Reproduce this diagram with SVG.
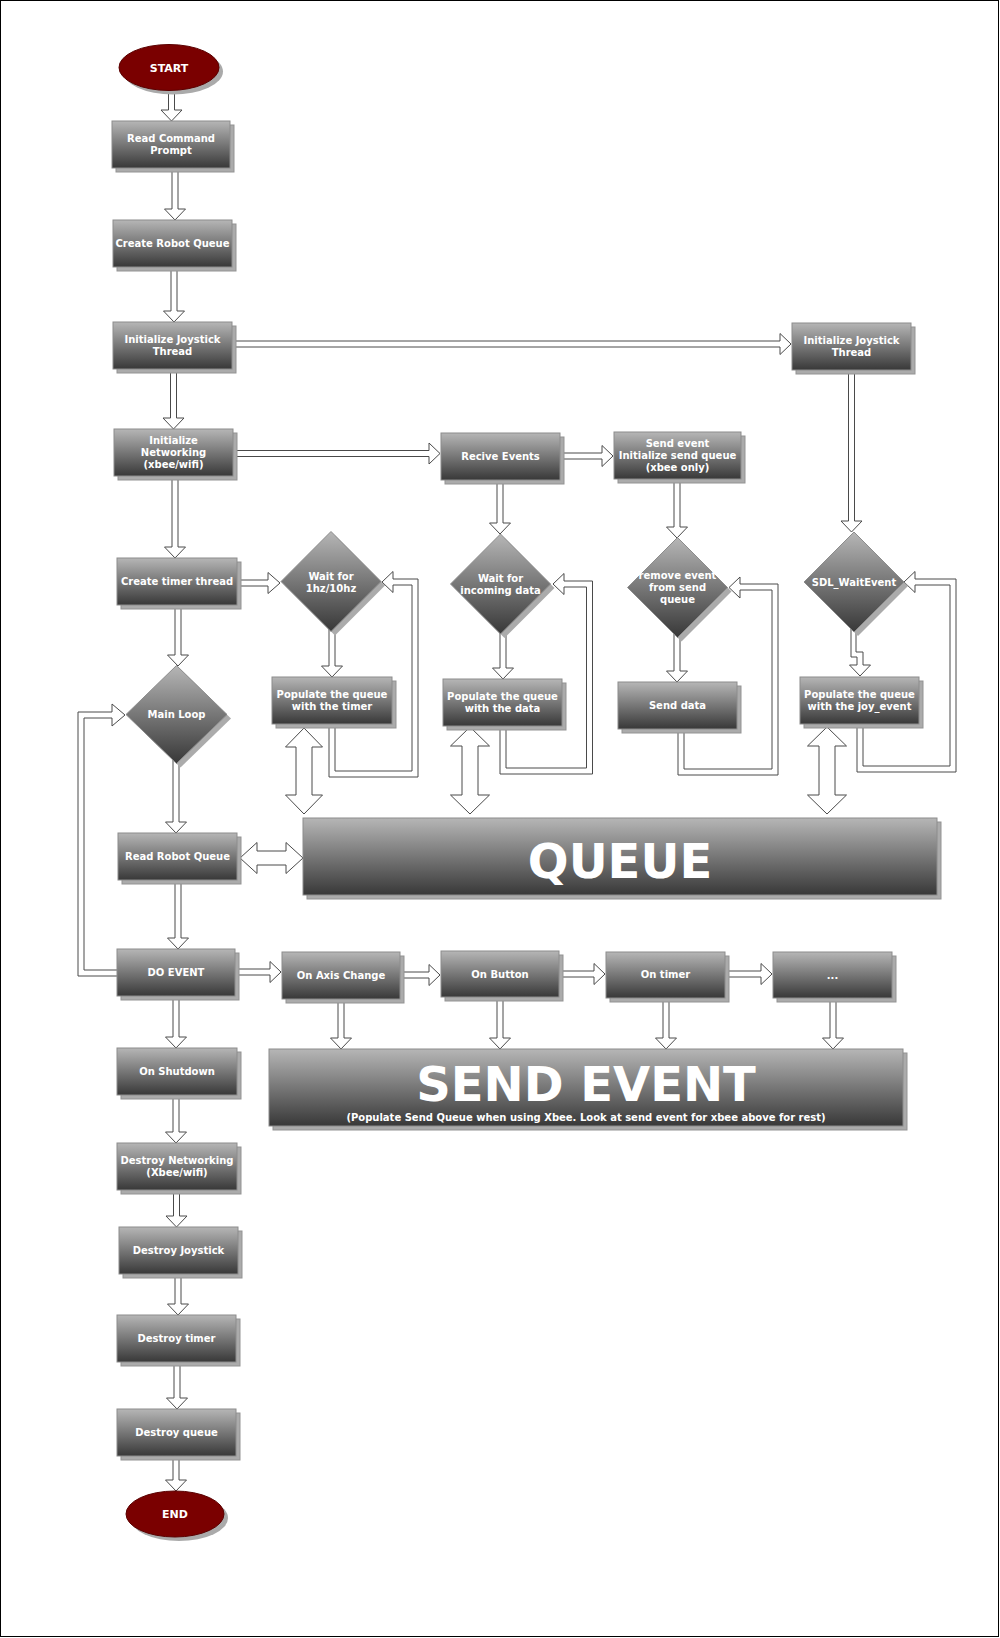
<svg xmlns="http://www.w3.org/2000/svg" width="1000" height="1638" viewBox="0 0 1000 1638">
<defs>
<linearGradient id="g" x1="0" y1="0" x2="0" y2="1">
<stop offset="0" stop-color="#b6b6b6"/>
<stop offset="1" stop-color="#383838"/>
</linearGradient>
<style>
.box{fill:url(#g);stroke:#8c8c8c;stroke-width:1}
.sh{fill:#ababab;stroke:#939393;stroke-width:1}
.t{font-family:"DejaVu Sans",Verdana,sans-serif;font-weight:bold;font-size:10px;fill:#ffffff;text-anchor:middle}
.big{font-size:48px}
.sub{font-size:10px}
.arr{fill:#ffffff;stroke:#4a4a4a;stroke-width:1}
.ell{fill:#7a0000;stroke:#5a0000;stroke-width:1}
</style>
</defs>
<rect x="0.5" y="0.5" width="998" height="1636" fill="#ffffff" stroke="#000000" stroke-width="1"/>

<g id="connectors">
<polygon class="arr" points="168.5,88 168.5,110 161,110 171.5,121 182,110 174.5,110 174.5,88"/>
<polygon class="arr" points="172,168 172,209 164.5,209 175,220 185.5,209 178,209 178,168"/>
<polygon class="arr" points="171,267 171,311 163.5,311 174,322 184.5,311 177,311 177,267"/>
<polygon class="arr" points="170.5,369 170.5,418 163,418 173.5,429 184,418 176.5,418 176.5,369"/>
<polygon class="arr" points="172,476 172,547 164.5,547 175,558 185.5,547 178,547 178,476"/>
<polygon class="arr" points="175,605 175,655 167.5,655 178,666 188.5,655 181,655 181,605"/>
<polygon class="arr" points="173,760 173,822 165.5,822 176,833 186.5,822 179,822 179,760"/>
<polygon class="arr" points="175,881 175,938 167.5,938 178,949 188.5,938 181,938 181,881"/>
<polygon class="arr" points="173,996 173,1037 165.5,1037 176,1048 186.5,1037 179,1037 179,996"/>
<polygon class="arr" points="173,1095 173,1132 165.5,1132 176,1143 186.5,1132 179,1132 179,1095"/>
<polygon class="arr" points="173.5,1190 173.5,1216 166,1216 176.5,1227 187,1216 179.5,1216 179.5,1190"/>
<polygon class="arr" points="175,1274 175,1304 167.5,1304 178,1315 188.5,1304 181,1304 181,1274"/>
<polygon class="arr" points="174,1362 174,1398 166.5,1398 177,1409 187.5,1398 180,1398 180,1362"/>
<polygon class="arr" points="173,1456 173,1480 165.5,1480 176,1491 186.5,1480 179,1480 179,1456"/>

<polygon class="arr" points="232,341 780,341 780,333.5 791,344 780,354.5 780,347 232,347"/>
<polygon class="arr" points="233,450.5 429,450.5 429,443 440,453.5 429,464 429,456.5 233,456.5"/>
<polygon class="arr" points="560,453 602,453 602,445.5 613,456 602,466.5 602,459 560,459"/>
<polygon class="arr" points="237,580 268,580 268,572.5 280,583 268,593.5 268,586 237,586"/>
<polygon class="arr" points="235,969 270,969 270,961.5 281,972 270,982.5 270,975 235,975"/>
<polygon class="arr" points="400,972 429,972 429,964.5 440,975 429,985.5 429,978 400,978"/>
<polygon class="arr" points="559,971 594,971 594,963.5 605,974 594,984.5 594,977 559,977"/>
<polygon class="arr" points="725,971 761,971 761,963.5 772,974 761,984.5 761,977 725,977"/>

<polygon class="arr" points="338,999 338,1038 330.5,1038 341,1049 351.5,1038 344,1038 344,999"/>
<polygon class="arr" points="497,997 497,1038 489.5,1038 500,1049 510.5,1038 503,1038 503,997"/>
<polygon class="arr" points="663,998 663,1038 655.5,1038 666,1049 676.5,1038 669,1038 669,998"/>
<polygon class="arr" points="830,998 830,1038 822.5,1038 833,1049 843.5,1038 836,1038 836,998"/>

<polygon class="arr" points="497,479 497,523 489.5,523 500,534 510.5,523 503,523 503,479"/>
<polygon class="arr" points="674,478 674,527 666.5,527 677,538 687.5,527 680,527 680,478"/>
<polygon class="arr" points="329,628 329,666 321.5,666 332,677 342.5,666 335,666 335,628"/>
<polygon class="arr" points="500,630 500,668 492.5,668 503,679 513.5,668 506,668 506,630"/>
<polygon class="arr" points="674,633 674,671 666.5,671 677,682 687.5,671 680,671 680,633"/>
<polygon class="arr" points="848.5,370 848.5,521 841,521 851.5,532 862,521 854.5,521 854.5,370"/>
<polygon class="arr" points="851,628 851,657 857,657 857,665 849.5,665 860,676 870.5,665 863,665 863,652 856,652 856,628"/>

<polygon class="arr" points="329,722 329,777 418,777 418,579 393,579 393,571.5 382,582 393,592.5 393,585 412,585 412,771 335,771 335,722"/>
<polygon class="arr" points="500,724 500,774 592.5,774 592.5,581 564,581 564,573.5 553,584 564,594.5 564,587 586.5,587 586.5,768 506,768 506,724"/>
<polygon class="arr" points="678,727 678,775 778,775 778,584 740,584 740,577 729,587.5 740,598 740,590 772,590 772,769 684,769 684,727"/>
<polygon class="arr" points="857,722 857,772 956,772 956,579 915,579 915,571.5 904,582 915,592.5 915,585 950,585 950,766 863,766 863,722"/>
<polygon class="arr" points="118,976 78,976 78,712 112,712 112,704 125,715 112,726 112,718 84,718 84,970 118,970"/>

<polygon class="arr" points="304,728 322.5,747 312,747 312,795 322.5,795 304,814 285.5,795 296,795 296,747 285.5,747"/>
<polygon class="arr" points="470,727 489.5,746 478,746 478,795 489.5,795 470,814 450.5,795 462,795 462,746 450.5,746"/>
<polygon class="arr" points="827,727 846.5,746 835,746 835,795 846.5,795 827,814 807.5,795 819,795 819,746 807.5,746"/>
<polygon class="arr" points="240,858 257,842.5 257,851 286,851 286,842.5 303,858 286,873.5 286,865 257,865 257,873.5"/>
</g>

<g id="n-start" transform="translate(169,67.5)">
<ellipse cx="4" cy="4" rx="50" ry="23" fill="#aaaaaa"/>
<ellipse class="ell" rx="50" ry="23"/>
<text class="t" y="4" style="font-size:11px">START</text>
</g>

<g id="n-read-cmd" transform="translate(112,121)">
<rect class="sh" x="4" y="4" width="118" height="47"/>
<rect class="box" width="118" height="47"/>
<text class="t" x="59" y="21.2">Read Command</text>
<text class="t" x="59" y="33.2">Prompt</text>
</g>

<g id="n-create-queue" transform="translate(113,220)">
<rect class="sh" x="4" y="4" width="119" height="47"/>
<rect class="box" width="119" height="47"/>
<text class="t" x="59.5" y="27.2">Create Robot Queue</text>
</g>

<g id="n-init-joy" transform="translate(113,322)">
<rect class="sh" x="4" y="4" width="119" height="47"/>
<rect class="box" width="119" height="47"/>
<text class="t" x="59.5" y="21.2">Initialize Joystick</text>
<text class="t" x="59.5" y="33.2">Thread</text>
</g>

<g id="n-init-joy-2" transform="translate(792,323)">
<rect class="sh" x="4" y="4" width="119" height="47"/>
<rect class="box" width="119" height="47"/>
<text class="t" x="59.5" y="21.2">Initialize Joystick</text>
<text class="t" x="59.5" y="33.2">Thread</text>
</g>

<g id="n-init-net" transform="translate(114,429)">
<rect class="sh" x="4" y="4" width="119" height="47"/>
<rect class="box" width="119" height="47"/>
<text class="t" x="59.5" y="15.2">Initialize</text>
<text class="t" x="59.5" y="26.9">Networking</text>
<text class="t" x="59.5" y="38.6">(xbee/wifi)</text>
</g>

<g id="n-recive" transform="translate(441,433)">
<rect class="sh" x="4" y="4" width="119" height="47"/>
<rect class="box" width="119" height="47"/>
<text class="t" x="59.5" y="27.2">Recive Events</text>
</g>

<g id="n-send-event" transform="translate(614,432)">
<rect class="sh" x="4" y="4" width="127" height="47"/>
<rect class="box" width="127" height="47"/>
<text class="t" x="63.5" y="15.2">Send event</text>
<text class="t" x="63.5" y="26.9">Initialize send queue</text>
<text class="t" x="63.5" y="38.6">(xbee only)</text>
</g>

<g id="n-create-timer" transform="translate(117,558)">
<rect class="sh" x="4" y="4" width="120" height="47"/>
<rect class="box" width="120" height="47"/>
<text class="t" x="60" y="27.2">Create timer thread</text>
</g>

<g id="n-wait-timer" transform="translate(331,581.5)">
<polygon class="sh" points="4,-46 54,4 4,54 -46,4" style="stroke:none"/>
<polygon class="box" points="0,-50 50,0 0,50 -50,0"/>
<text class="t" y="-1.5">Wait for</text>
<text class="t" y="10.5">1hz/10hz</text>
</g>

<g id="n-wait-data" transform="translate(500.5,584)">
<polygon class="sh" points="4,-46 54,4 4,54 -46,4" style="stroke:none"/>
<polygon class="box" points="0,-50 50,0 0,50 -50,0"/>
<text class="t" y="-2">Wait for</text>
<text class="t" y="10">incoming data</text>
</g>

<g id="n-remove-event" transform="translate(677.5,587.5)">
<polygon class="sh" points="4,-46 54,4 4,54 -46,4" style="stroke:none"/>
<polygon class="box" points="0,-50 50,0 0,50 -50,0"/>
<text class="t" y="-8.5">remove event</text>
<text class="t" y="3.5">from send</text>
<text class="t" y="15.5">queue</text>
</g>

<g id="n-sdl-wait" transform="translate(854,582)">
<polygon class="sh" points="4,-46 54,4 4,54 -46,4" style="stroke:none"/>
<polygon class="box" points="0,-50 50,0 0,50 -50,0"/>
<text class="t" y="3.7">SDL_WaitEvent</text>
</g>

<g id="n-main-loop" transform="translate(176.5,714.5)">
<polygon class="sh" points="4,-45 54.5,4 4,53 -46.5,4" style="stroke:none"/>
<polygon class="box" points="0,-49 50.5,0 0,49 -50.5,0"/>
<text class="t" y="3.5">Main Loop</text>
</g>

<g id="n-pop-timer" transform="translate(272,677)">
<rect class="sh" x="4" y="4" width="120" height="47"/>
<rect class="box" width="120" height="47"/>
<text class="t" x="60" y="21.2">Populate the queue</text>
<text class="t" x="60" y="33.2">with the timer</text>
</g>

<g id="n-pop-data" transform="translate(443,679)">
<rect class="sh" x="4" y="4" width="119" height="47"/>
<rect class="box" width="119" height="47"/>
<text class="t" x="59.5" y="21.2">Populate the queue</text>
<text class="t" x="59.5" y="33.2">with the data</text>
</g>

<g id="n-send-data" transform="translate(618,682)">
<rect class="sh" x="4" y="4" width="119" height="47"/>
<rect class="box" width="119" height="47"/>
<text class="t" x="59.5" y="27.2">Send data</text>
</g>

<g id="n-pop-joy" transform="translate(800,677)">
<rect class="sh" x="4" y="4" width="119" height="47"/>
<rect class="box" width="119" height="47"/>
<text class="t" x="59.5" y="21.2">Populate the queue</text>
<text class="t" x="59.5" y="33.2">with the joy_event</text>
</g>

<g id="n-read-robot" transform="translate(118,833)">
<rect class="sh" x="4" y="4" width="119" height="47"/>
<rect class="box" width="119" height="47"/>
<text class="t" x="59.5" y="27.2">Read Robot Queue</text>
</g>

<g id="n-queue" transform="translate(303,818)">
<rect class="sh" x="4" y="4" width="634" height="77"/>
<rect class="box" width="634" height="77"/>
<text class="t big" x="317" y="60">QUEUE</text>
</g>

<g id="n-do-event" transform="translate(117,949)">
<rect class="sh" x="4" y="4" width="118" height="47"/>
<rect class="box" width="118" height="47"/>
<text class="t" x="59" y="27.2">DO EVENT</text>
</g>

<g id="n-on-axis" transform="translate(282,952)">
<rect class="sh" x="4" y="4" width="118" height="47"/>
<rect class="box" width="118" height="47"/>
<text class="t" x="59" y="27.2">On Axis Change</text>
</g>

<g id="n-on-button" transform="translate(441,951)">
<rect class="sh" x="4" y="4" width="118" height="46"/>
<rect class="box" width="118" height="46"/>
<text class="t" x="59" y="26.5">On Button</text>
</g>

<g id="n-on-timer" transform="translate(606,952)">
<rect class="sh" x="4" y="4" width="119" height="46"/>
<rect class="box" width="119" height="46"/>
<text class="t" x="59.5" y="26">On timer</text>
</g>

<g id="n-more" transform="translate(773,952)">
<rect class="sh" x="4" y="4" width="119" height="46"/>
<rect class="box" width="119" height="46"/>
<text class="t" x="59.5" y="27">...</text>
</g>

<g id="n-send-event-big" transform="translate(269,1049)">
<rect class="sh" x="4" y="4" width="634" height="77"/>
<rect class="box" width="634" height="77"/>
<text class="t big" x="317" y="52">SEND EVENT</text>
<text class="t sub" x="317" y="72">(Populate Send Queue when using Xbee. Look at send event for xbee above for rest)</text>
</g>

<g id="n-on-shutdown" transform="translate(117,1048)">
<rect class="sh" x="4" y="4" width="120" height="47"/>
<rect class="box" width="120" height="47"/>
<text class="t" x="60" y="27.2">On Shutdown</text>
</g>

<g id="n-destroy-net" transform="translate(117,1143)">
<rect class="sh" x="4" y="4" width="120" height="47"/>
<rect class="box" width="120" height="47"/>
<text class="t" x="60" y="21.2">Destroy Networking</text>
<text class="t" x="60" y="33.2">(Xbee/wifi)</text>
</g>

<g id="n-destroy-joy" transform="translate(119,1227)">
<rect class="sh" x="4" y="4" width="119" height="47"/>
<rect class="box" width="119" height="47"/>
<text class="t" x="59.5" y="27.2">Destroy Joystick</text>
</g>

<g id="n-destroy-timer" transform="translate(117,1315)">
<rect class="sh" x="4" y="4" width="119" height="47"/>
<rect class="box" width="119" height="47"/>
<text class="t" x="59.5" y="27.2">Destroy timer</text>
</g>

<g id="n-destroy-queue" transform="translate(117,1409)">
<rect class="sh" x="4" y="4" width="119" height="47"/>
<rect class="box" width="119" height="47"/>
<text class="t" x="59.5" y="27.2">Destroy queue</text>
</g>

<g id="n-end" transform="translate(175,1514)">
<ellipse cx="4" cy="4" rx="49" ry="23" fill="#aaaaaa"/>
<ellipse class="ell" rx="49" ry="23"/>
<text class="t" y="4" style="font-size:11px">END</text>
</g>
</svg>
